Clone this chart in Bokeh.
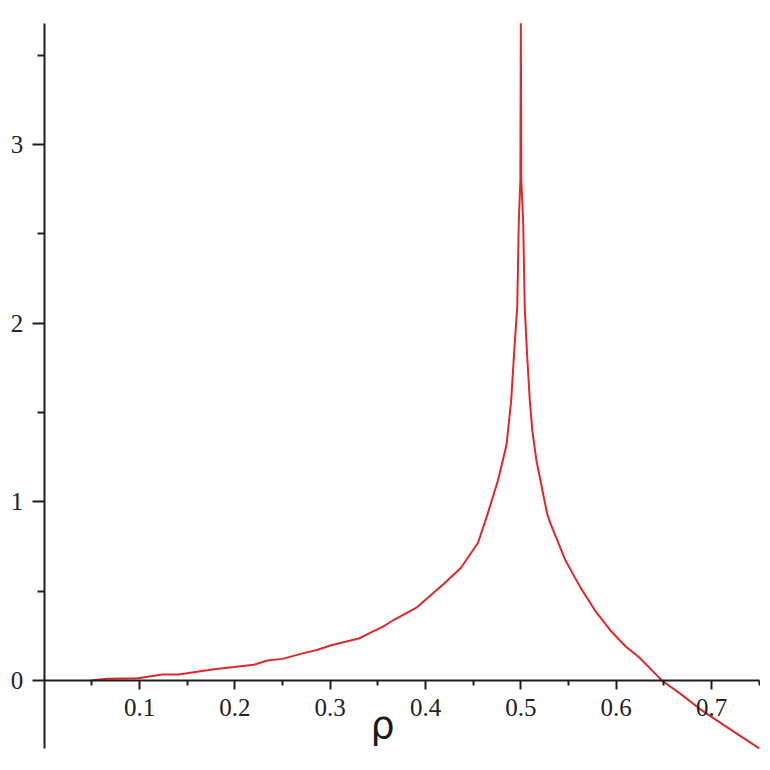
from bokeh.plotting import figure
from bokeh.models import Range1d, FixedTicker, Label
from bokeh.embed import file_html
from bokeh.resources import INLINE

# ---- data ----
rho = [0.049, 0.066, 0.098, 0.124, 0.141, 0.178, 0.199, 0.220, 0.234, 0.250,
       0.269, 0.287, 0.300, 0.315, 0.330, 0.345, 0.355, 0.367, 0.391, 0.419,
       0.437, 0.455, 0.465, 0.476, 0.485, 0.4899, 0.4933, 0.4962, 0.4978, 0.4995,
       0.5000, 0.5005, 0.5025, 0.5041, 0.5067, 0.5094, 0.512, 0.5164, 0.5276, 0.531,
       0.547, 0.5626, 0.578, 0.594, 0.610, 0.624, 0.636, 0.648, 0.6675, 0.688,
       0.713, 0.750]
f_val = [0.000, 0.010, 0.013, 0.034, 0.034, 0.063, 0.075, 0.088, 0.112, 0.121,
         0.149, 0.172, 0.196, 0.215, 0.235, 0.275, 0.300, 0.340, 0.410, 0.540,
         0.630, 0.770, 0.930, 1.120, 1.320, 1.570, 1.865, 2.088, 2.560, 2.800,
         3.680, 2.800, 2.560, 2.088, 1.810, 1.570, 1.400, 1.230, 0.933, 0.880,
         0.670, 0.520, 0.390, 0.280, 0.190, 0.130, 0.065, 0.000, -0.075, -0.160,
         -0.250, -0.380]

x_major = [0.1, 0.2, 0.3, 0.4, 0.5, 0.6, 0.7]
x_minor = [0.05, 0.15, 0.25, 0.35, 0.45, 0.55, 0.65, 0.75]
y_major = [0, 1, 2, 3]
y_minor = [0.5, 1.5, 2.5, 3.5]
x_bounds = (0.0, 0.75)
y_bounds = (-0.38, 3.68)
x_label = "ρ"

p = figure(width=760, height=760, output_backend="svg", toolbar_location=None,
           x_range=Range1d(-0.04584, 0.7514), y_range=Range1d(-0.448, 3.8074),
           min_border=0, min_border_left=0, min_border_right=0,
           min_border_top=0, min_border_bottom=0)
p.outline_line_color = None
p.xgrid.visible = False
p.ygrid.visible = False
p.background_fill_color = "white"
p.border_fill_color = "white"

p.line(rho, f_val, line_color="#e0282a", line_width=2)

axis_color = "#1e1e1e"
for ax in (p.xaxis[0], p.yaxis[0]):
    ax.fixed_location = 0
    ax.axis_line_color = axis_color
    ax.axis_line_width = 2
    ax.major_tick_line_color = axis_color
    ax.minor_tick_line_color = axis_color
    ax.major_tick_line_width = 2
    ax.minor_tick_line_width = 2
    ax.major_tick_in = 0
    ax.minor_tick_in = 0
    ax.major_label_text_font = "Liberation Serif"
    ax.major_label_text_font_size = "25px"
    ax.major_label_text_color = "#222222"

p.xaxis[0].ticker = FixedTicker(ticks=x_major, minor_ticks=x_minor)
p.xaxis[0].bounds = x_bounds
p.xaxis[0].major_tick_out = 9
p.xaxis[0].minor_tick_out = 5
p.xaxis[0].major_label_standoff = 10

p.yaxis[0].ticker = FixedTicker(ticks=y_major, minor_ticks=y_minor)
p.yaxis[0].bounds = y_bounds
p.yaxis[0].major_tick_out = 12
p.yaxis[0].minor_tick_out = 7
p.yaxis[0].major_label_standoff = 9

p.add_layout(Label(x=0.355, y=-0.252, text=x_label, text_align="center",
                   text_baseline="alphabetic", text_font="DejaVu Sans",
                   text_font_size="38px", text_color="#1a1a1a"))

open("out.html", "w").write(file_html(p, INLINE))
